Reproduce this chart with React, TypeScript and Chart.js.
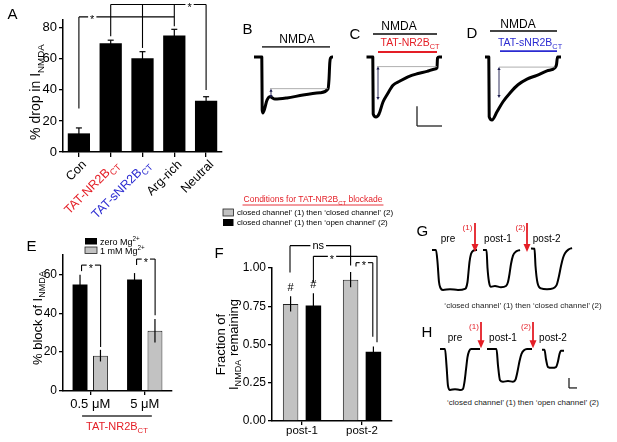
import React, { useEffect, useRef } from 'react';
import { Chart, registerables } from 'chart.js';

Chart.register(...registerables);

const FONT = '"Liberation Sans", Arial, Helvetica, sans-serif';
Chart.defaults.font.family = FONT;
Chart.defaults.color = '#000';

const RED = '#e41e26';
const BLUE = '#2b2bd1';

type Seg = { t: string; s?: 'sub' | 'sup' };

// ---------------- Panel A data ----------------
const A_CATS = ['Con', 'TAT-NR2BCT', 'TAT-sNR2BCT', 'Arg-rich', 'Neutral'];
const A_LABELS: Seg[][] = [
  [{ t: 'Con' }],
  [{ t: 'TAT-NR2B' }, { t: 'CT', s: 'sub' }],
  [{ t: 'TAT-sNR2B' }, { t: 'CT', s: 'sub' }],
  [{ t: 'Arg-rich' }],
  [{ t: 'Neutral' }],
];
const A_LABEL_COLORS = ['#000', RED, BLUE, '#000', '#000'];
const A_VALUES = [12, 70, 60.4, 75, 33];
const A_ERRORS = [3.5, 2, 4.2, 4, 2.6];
const A_YTITLE: Seg[] = [{ t: '% drop in I' }, { t: 'NMDA', s: 'sub' }];

// ---------------- Panel E data ----------------
const E_CATS = ['0.5 \u03bcM', '5 \u03bcM'];
const E_ZERO = [54.8, 57.4];
const E_ZERO_ERR = [5, 3.3];
const E_MG = [18.2, 31];
const E_MG_ERR = [3, 6];
const E_YTITLE: Seg[] = [{ t: '% block of I' }, { t: 'NMDA', s: 'sub' }];

// ---------------- Panel F data ----------------
const F_CATS = ['post-1', 'post-2'];
const F_CLOSED = [0.765, 0.924];
const F_CLOSED_ERR = [0.05, 0.05];
const F_OPEN = [0.755, 0.452];
const F_OPEN_ERR = [0.08, 0.035];
const F_LEGEND_TITLE: Seg[] = [{ t: 'Conditions for TAT-NR2B' }, { t: 'CT', s: 'sub' }, { t: ' blockade' }];
const F_LEGEND = [
  'closed channel\u2019 (1) then \u2018closed channel\u2019 (2)',
  'closed channel\u2019 (1) then \u2018open channel\u2019 (2)',
];

// ---------------- Significance brackets (category units, value units) ----------------
type Bracket = { x1: number; x2: number; y: number; drops: number[][]; label: string; lx: number };
const A_BRACKETS: Bracket[] = [
  { x1: 0, x2: 3, y: 87, drops: [[0, 28]], label: '*', lx: 0.42 },
  { x1: 1, x2: 4, y: 95, drops: [[1, 74.5], [2, 67], [3, 81], [4, 40]], label: '*', lx: 3.48 },
];
const E_BRACKETS: Bracket[] = [
  { x1: -0.16, x2: 0.19, y: 64.8, drops: [[-0.16, 61.7], [0.19, 22.6]], label: '*', lx: 0.01 },
  { x1: 0.85, x2: 1.19, y: 67.9, drops: [[0.85, 64.8], [1.19, 39]], label: '*', lx: 1.02 },
];
const F_BRACKETS: Bracket[] = [
  { x1: -0.2, x2: 0.81, y: 1.146, drops: [[-0.2, 0.97], [0.81, 1.016]], label: 'ns', lx: 0.27 },
  { x1: 0.19, x2: 1.25, y: 1.076, drops: [[0.19, 0.905], [1.25, 0.514]], label: '*', lx: 0.5 },
  { x1: 0.9, x2: 1.18, y: 1.035, drops: [[0.9, 1.009], [1.18, 0.55]], label: '*', lx: 1.03 },
];

// ---------------- Current traces (time s, normalised current) ----------------
const B_T = [-0.8, -0.02, 0.02, 0.1, 0.5, 0.8, 1.3, 2.5, 4.1, 5.8, 6.6, 6.7, 6.78, 6.85, 7.0, 7.1];
const B_I = [0, 0, -0.95, -1.0, -0.77, -0.71, -0.75, -0.73, -0.68, -0.64, -0.57, -0.4, -0.1, -0.02, 0, 0];
const C_T = [-0.65, -0.02, 0.02, 0.3, 0.6, 1.0, 1.4, 2.0, 2.7, 3.5, 4.4, 5.4, 6.2, 6.4, 6.45, 6.6, 6.9];
const C_I = [0, 0, -0.95, -1.0, -0.95, -0.75, -0.63, -0.47, -0.4, -0.33, -0.28, -0.24, -0.2, -0.18, -0.02, 0, 0];
const D_T = [-0.4, -0.02, 0.02, 0.3, 0.8, 1.4, 2.1, 2.9, 3.8, 4.8, 5.8, 6.6, 6.75, 6.85, 7.2];
const D_I = [0, 0, -0.95, -1.0, -0.87, -0.71, -0.57, -0.44, -0.35, -0.29, -0.22, -0.17, -0.12, 0, 0];

// G / H sweeps (time ms on the row, normalised current)
const G_PRE_T = [70, 110, 125, 140, 155, 180, 250, 330, 400, 410, 425, 435, 445, 460, 480, 520];
const G_PRE_I = [0, 0, -0.3, -0.8, -0.95, -1.0, -0.98, -1.0, -0.97, -0.95, -0.8, -0.55, -0.3, -0.1, -0.02, 0];
const G_P1_T = [580, 615, 625, 640, 660, 700, 760, 810, 830, 845, 860, 880, 910, 950];
const G_P1_I = [0, 0, -0.45, -0.8, -0.92, -0.9, -0.93, -0.9, -0.8, -0.6, -0.35, -0.14, -0.04, 0];
const G_P2_T = [1060, 1095, 1105, 1125, 1160, 1220, 1280, 1310, 1320, 1340, 1360, 1380, 1400, 1440, 1470];
const G_P2_I = [0.04, 0.03, -0.4, -0.82, -0.96, -0.98, -0.96, -0.9, -0.85, -0.65, -0.4, -0.2, -0.08, 0.02, 0.05];
const H_PRE_T = [150, 200, 215, 230, 250, 300, 350, 380, 395, 410, 425, 440, 460, 550];
const H_PRE_I = [0, 0, -0.4, -0.9, -1.0, -0.98, -1.0, -0.97, -0.8, -0.5, -0.2, -0.06, 0, 0];
const H_P1_T = [620, 715, 730, 750, 780, 830, 880, 905, 925, 945, 965, 990, 1020, 1070];
const H_P1_I = [0, 0, -0.4, -0.76, -0.8, -0.78, -0.8, -0.75, -0.55, -0.3, -0.12, -0.03, 0, 0];
const H_P2_T = [1170, 1195, 1210, 1230, 1270, 1310, 1330, 1345, 1360, 1390];
const H_P2_I = [-0.02, -0.02, -0.25, -0.44, -0.46, -0.44, -0.3, -0.12, -0.04, -0.04];

type Note =
  | { k: 'bar'; t1: number; t2: number; y: number; color: string }
  | { k: 'ref'; t1: number; t2: number; y: number }
  | { k: 'dbl'; t: number; y1: number; y2: number }
  | { k: 'text'; t: number; y: number; segs: Seg[]; color: string; size: number }
  | { k: 'scale'; t1: number; t2: number; y1: number; y2: number }
  | { k: 'arrow'; t: number; y1: number; y2: number };

const B_NOTES: Note[] = [
  { k: 'bar', t1: 0, t2: 6.8, y: 0.18, color: '#444' },
  { k: 'text', t: 3.5, y: 0.32, segs: [{ t: 'NMDA' }], color: '#000', size: 12 },
  { k: 'ref', t1: 0.8, t2: 6.6, y: -0.565 },
  { k: 'dbl', t: 0.9, y1: -0.565, y2: -0.73 },
];
const C_NOTES: Note[] = [
  { k: 'bar', t1: 0, t2: 6.4, y: 0.383, color: '#444' },
  { k: 'text', t: 2.6, y: 0.52, segs: [{ t: 'NMDA' }], color: '#000', size: 12 },
  { k: 'bar', t1: 0.5, t2: 6.4, y: 0.083, color: RED },
  { k: 'text', t: 3.7, y: 0.25, segs: [{ t: 'TAT-NR2B' }, { t: 'CT', s: 'sub' }], color: RED, size: 10.5 },
  { k: 'ref', t1: 0.4, t2: 6.4, y: -0.16 },
  { k: 'dbl', t: 0.5, y1: -0.16, y2: -0.717 },
  { k: 'scale', t1: 4.4, t2: 6.9, y1: -0.82, y2: -1.15 },
];
const D_NOTES: Note[] = [
  { k: 'bar', t1: 0.1, t2: 6.8, y: 0.413, color: '#444' },
  { k: 'text', t: 2.9, y: 0.524, segs: [{ t: 'NMDA' }], color: '#000', size: 12 },
  { k: 'bar', t1: 1.1, t2: 6.8, y: 0.095, color: BLUE },
  { k: 'text', t: 4.1, y: 0.24, segs: [{ t: 'TAT-sNR2B' }, { t: 'CT', s: 'sub' }], color: BLUE, size: 10.5 },
  { k: 'ref', t1: 1.0, t2: 6.6, y: -0.16 },
  { k: 'dbl', t: 1.0, y1: -0.16, y2: -0.65 },
];
const G_NOTES: Note[] = [
  { k: 'text', t: 230, y: 0.3, segs: [{ t: 'pre' }], color: '#000', size: 10 },
  { k: 'text', t: 730, y: 0.3, segs: [{ t: 'post-1' }], color: '#000', size: 10 },
  { k: 'text', t: 1217, y: 0.3, segs: [{ t: 'post-2' }], color: '#000', size: 10 },
  { k: 'text', t: 425, y: 0.575, segs: [{ t: '(1)' }], color: RED, size: 8 },
  { k: 'text', t: 955, y: 0.575, segs: [{ t: '(2)' }], color: RED, size: 8 },
  { k: 'arrow', t: 500, y1: 0.675, y2: -0.05 },
  { k: 'arrow', t: 1020, y1: 0.675, y2: -0.05 },
];
const H_NOTES: Note[] = [
  { k: 'text', t: 300, y: 0.29, segs: [{ t: 'pre' }], color: '#000', size: 10 },
  { k: 'text', t: 780, y: 0.29, segs: [{ t: 'post-1' }], color: '#000', size: 10 },
  { k: 'text', t: 1280, y: 0.29, segs: [{ t: 'post-2' }], color: '#000', size: 10 },
  { k: 'text', t: 490, y: 0.56, segs: [{ t: '(1)' }], color: RED, size: 8 },
  { k: 'text', t: 1010, y: 0.56, segs: [{ t: '(2)' }], color: RED, size: 8 },
  { k: 'arrow', t: 560, y1: 0.66, y2: 0.02 },
  { k: 'arrow', t: 1080, y1: 0.66, y2: 0.02 },
  { k: 'scale', t1: 1440, t2: 1520, y1: -0.71, y2: -0.95 },
];

// ---------------- drawing helpers ----------------
function segFont(size: number, s?: string) {
  return `${s ? size * 0.7 : size}px ${FONT}`;
}
function richWidth(ctx: CanvasRenderingContext2D, segs: Seg[], size: number) {
  let w = 0;
  for (const g of segs) {
    ctx.font = segFont(size, g.s);
    w += ctx.measureText(g.t).width;
  }
  return w;
}
function drawRich(ctx: CanvasRenderingContext2D, segs: Seg[], x: number, cy: number, size: number, color: string, align: 'left' | 'center' | 'right') {
  ctx.save();
  ctx.fillStyle = color;
  ctx.textBaseline = 'alphabetic';
  ctx.textAlign = 'left';
  const w = richWidth(ctx, segs, size);
  let cx = align === 'center' ? x - w / 2 : align === 'right' ? x - w : x;
  const base = cy + size * 0.35;
  for (const g of segs) {
    ctx.font = segFont(size, g.s);
    const dy = g.s === 'sub' ? size * 0.3 : g.s === 'sup' ? -size * 0.4 : 0;
    ctx.fillText(g.t, cx, base + dy);
    cx += ctx.measureText(g.t).width;
  }
  ctx.restore();
  return w;
}
function line(ctx: CanvasRenderingContext2D, x1: number, y1: number, x2: number, y2: number, color = '#000', w = 1.1) {
  ctx.save();
  ctx.strokeStyle = color;
  ctx.lineWidth = w;
  ctx.beginPath();
  ctx.moveTo(x1, y1);
  ctx.lineTo(x2, y2);
  ctx.stroke();
  ctx.restore();
}
function tri(ctx: CanvasRenderingContext2D, x: number, tipY: number, dir: number, half: number, len: number, color: string) {
  ctx.save();
  ctx.fillStyle = color;
  ctx.beginPath();
  ctx.moveTo(x, tipY);
  ctx.lineTo(x - half, tipY - dir * len);
  ctx.lineTo(x + half, tipY - dir * len);
  ctx.closePath();
  ctx.fill();
  ctx.restore();
}
function drawErrors(ctx: CanvasRenderingContext2D, meta: any, ys: any, vals: number[], errs: number[], cap: number) {
  meta.data.forEach((el: any, j: number) => {
    const yt = ys.getPixelForValue(vals[j] + errs[j]);
    const yb = ys.getPixelForValue(vals[j] - errs[j]);
    line(ctx, el.x, yb, el.x, yt, '#000', 1.2);
    if (cap > 0) line(ctx, el.x - cap, yt, el.x + cap, yt, '#000', 1.2);
  });
}
function drawBrackets(ctx: CanvasRenderingContext2D, xs: any, ys: any, list: Bracket[], size: number) {
  const X = (v: number) => xs.getPixelForValue(v);
  const Y = (v: number) => ys.getPixelForValue(v);
  for (const b of list) {
    line(ctx, X(b.x1), Y(b.y), X(b.x2), Y(b.y));
    for (const [dx, to] of b.drops) line(ctx, X(dx), Y(b.y), X(dx), Y(to));
    ctx.save();
    ctx.font = `${size}px ${FONT}`;
    const w = ctx.measureText(b.label).width;
    ctx.fillStyle = '#fff';
    ctx.fillRect(X(b.lx) - w / 2 - 2, Y(b.y) - 2, w + 4, 4);
    ctx.fillStyle = '#000';
    ctx.textAlign = 'center';
    ctx.textBaseline = 'alphabetic';
    const off = b.label === 'ns' ? 0.28 : 0.6;
    ctx.fillText(b.label, X(b.lx), Y(b.y) + size * off);
    ctx.restore();
  }
}

const axisGrid = (len: number) => ({
  display: true,
  drawOnChartArea: false,
  drawTicks: true,
  tickLength: len,
  color: '#000',
  lineWidth: 1.3,
  offset: false,
});
const axisBorder = { display: true, color: '#000', width: 1.5 };

// ---------------- chart configs ----------------
function makeA(): any {
  return {
    type: 'bar',
    data: {
      labels: A_CATS,
      datasets: [{ data: A_VALUES, backgroundColor: '#000', borderWidth: 0, categoryPercentage: 1, barPercentage: 0.7 }],
    },
    options: {
      responsive: false,
      animation: false,
      layout: { padding: { top: 20, right: 18, left: 0, bottom: 0 } },
      plugins: { legend: { display: false }, tooltip: { enabled: false } },
      scales: {
        x: {
          offset: true,
          grid: axisGrid(5),
          border: axisBorder,
          ticks: { display: false },
          afterFit: (s: any) => { s.height = 88; },
        },
        y: {
          min: 0,
          max: 85,
          grid: axisGrid(4),
          border: axisBorder,
          ticks: { stepSize: 20, includeBounds: false, font: { size: 13 }, color: '#000', padding: 2 },
          afterFit: (s: any) => { s.width = 63; },
        },
      },
    },
    plugins: [
      {
        id: 'aOverlay',
        afterDraw(chart: any) {
          const { ctx, chartArea, scales } = chart;
          const xs = scales.x, ys = scales.y;
          drawErrors(ctx, chart.getDatasetMeta(0), ys, A_VALUES, A_ERRORS, 3);
          A_LABELS.forEach((segs, j) => {
            ctx.save();
            ctx.translate(xs.getPixelForValue(j) + 5, chartArea.bottom + 10);
            ctx.rotate(-Math.PI / 4);
            drawRich(ctx, segs, 0, 0, 12.5, A_LABEL_COLORS[j], 'right');
            ctx.restore();
          });
          ctx.save();
          ctx.translate(chartArea.left - 28, 92);
          ctx.rotate(-Math.PI / 2);
          drawRich(ctx, A_YTITLE, 0, 0, 14, '#000', 'center');
          ctx.restore();
          drawBrackets(ctx, xs, ys, A_BRACKETS, 11);
        },
      },
    ],
  };
}

function makeE(): any {
  return {
    type: 'bar',
    data: {
      labels: E_CATS,
      datasets: [
        { label: 'zero Mg2+', data: E_ZERO, backgroundColor: '#000', borderWidth: 0, categoryPercentage: 0.75, barPercentage: 0.73 },
        { label: '1 mM Mg2+', data: E_MG, backgroundColor: '#c2c2c2', borderColor: '#222', borderWidth: 1, categoryPercentage: 0.75, barPercentage: 0.73 },
      ],
    },
    options: {
      responsive: false,
      animation: false,
      layout: { padding: { top: 25, right: 18, left: 0, bottom: 0 } },
      plugins: { legend: { display: false }, tooltip: { enabled: false } },
      scales: {
        x: {
          offset: true,
          grid: axisGrid(4),
          border: axisBorder,
          ticks: { display: false },
          afterFit: (s: any) => { s.height = 51; },
        },
        y: {
          min: 0,
          max: 70,
          grid: axisGrid(4),
          border: axisBorder,
          ticks: { stepSize: 20, includeBounds: false, font: { size: 12 }, color: '#000', padding: 2 },
          afterFit: (s: any) => { s.width = 63; },
        },
      },
    },
    plugins: [
      {
        id: 'eOverlay',
        afterDraw(chart: any) {
          const { ctx, chartArea, scales } = chart;
          const xs = scales.x, ys = scales.y;
          drawErrors(ctx, chart.getDatasetMeta(0), ys, E_ZERO, E_ZERO_ERR, 0);
          drawErrors(ctx, chart.getDatasetMeta(1), ys, E_MG, E_MG_ERR, 0);
          drawBrackets(ctx, xs, ys, E_BRACKETS, 11);
          // legend
          ctx.save();
          ctx.fillStyle = '#000';
          ctx.fillRect(85, 8, 12, 6.5);
          ctx.fillStyle = '#c2c2c2';
          ctx.fillRect(85, 17, 12, 6.5);
          ctx.strokeStyle = '#222';
          ctx.lineWidth = 0.8;
          ctx.strokeRect(85, 17, 12, 6.5);
          ctx.restore();
          drawRich(ctx, [{ t: 'zero Mg' }, { t: '2+', s: 'sup' }], 100, 11.5, 9, '#000', 'left');
          drawRich(ctx, [{ t: '1 mM Mg' }, { t: '2+', s: 'sup' }], 100, 20.5, 9, '#000', 'left');
          // x labels
          E_CATS.forEach((c, j) => {
            drawRich(ctx, [{ t: c }], xs.getPixelForValue(j), chartArea.bottom + 12.5, 13, '#000', 'center');
          });
          const gx1 = xs.getPixelForValue(-0.15), gx2 = xs.getPixelForValue(1.13);
          line(ctx, gx1, chartArea.bottom + 25, gx2, chartArea.bottom + 25, '#666', 2.2);
          drawRich(ctx, [{ t: 'TAT-NR2B' }, { t: 'CT', s: 'sub' }], (gx1 + gx2) / 2, chartArea.bottom + 35, 11, RED, 'center');
          // y title
          ctx.save();
          ctx.translate(chartArea.left - 26, 88);
          ctx.rotate(-Math.PI / 2);
          drawRich(ctx, E_YTITLE, 0, 0, 13, '#000', 'center');
          ctx.restore();
        },
      },
    ],
  };
}

function makeF(): any {
  return {
    type: 'bar',
    data: {
      labels: F_CATS,
      datasets: [
        { label: F_LEGEND[0], data: F_CLOSED, backgroundColor: '#c2c2c2', borderColor: '#222', borderWidth: 1, categoryPercentage: 0.76, barPercentage: 0.68 },
        { label: F_LEGEND[1], data: F_OPEN, backgroundColor: '#000', borderWidth: 0, categoryPercentage: 0.76, barPercentage: 0.68 },
      ],
    },
    options: {
      responsive: false,
      animation: false,
      layout: { padding: { top: 80, right: 8, left: 0, bottom: 0 } },
      plugins: { legend: { display: false }, tooltip: { enabled: false } },
      scales: {
        x: {
          offset: true,
          grid: axisGrid(4),
          border: axisBorder,
          ticks: { display: false },
          afterFit: (s: any) => { s.height = 21; },
        },
        y: {
          min: 0,
          max: 1,
          grid: axisGrid(4),
          border: axisBorder,
          ticks: { stepSize: 0.25, includeBounds: false, font: { size: 12 }, color: '#000', padding: 2, callback: (v: any) => Number(v).toFixed(2) },
          afterFit: (s: any) => { s.width = 72; },
        },
      },
    },
    plugins: [
      {
        id: 'fOverlay',
        afterDraw(chart: any) {
          const { ctx, chartArea, scales } = chart;
          const xs = scales.x, ys = scales.y;
          const m0 = chart.getDatasetMeta(0), m1 = chart.getDatasetMeta(1);
          drawErrors(ctx, m0, ys, F_CLOSED, F_CLOSED_ERR, 0);
          drawErrors(ctx, m1, ys, F_OPEN, F_OPEN_ERR, 0);
          // hash marks over post-1
          drawRich(ctx, [{ t: '#' }], m0.data[0].x, ys.getPixelForValue(F_CLOSED[0] + F_CLOSED_ERR[0]) - 9, 11, '#000', 'center');
          drawRich(ctx, [{ t: '#' }], m1.data[0].x, ys.getPixelForValue(F_OPEN[0] + F_OPEN_ERR[0]) - 9, 11, '#000', 'center');
          drawBrackets(ctx, xs, ys, F_BRACKETS, 11);
          // x labels
          F_CATS.forEach((c, j) => {
            drawRich(ctx, [{ t: c }], xs.getPixelForValue(j), chartArea.bottom + 9, 11.5, '#000', 'center');
          });
          // legend
          const tw = drawRich(ctx, F_LEGEND_TITLE, 113, 11, 8.5, RED, 'center');
          line(ctx, 113 - tw / 2 - 1, 17, 113 + tw / 2 + 1, 17, RED, 0.9);
          ctx.save();
          ctx.fillStyle = '#c2c2c2';
          ctx.fillRect(23, 21, 10.5, 7);
          ctx.strokeStyle = '#222';
          ctx.lineWidth = 0.8;
          ctx.strokeRect(23, 21, 10.5, 7);
          ctx.fillStyle = '#000';
          ctx.fillRect(23, 31, 10.5, 7);
          ctx.restore();
          drawRich(ctx, [{ t: F_LEGEND[0] }], 37, 24.5, 8, '#000', 'left');
          drawRich(ctx, [{ t: F_LEGEND[1] }], 37, 34.5, 8, '#000', 'left');
          // y title
          const cy = (chartArea.top + chartArea.bottom) / 2;
          ctx.save();
          ctx.translate(20, cy);
          ctx.rotate(-Math.PI / 2);
          drawRich(ctx, [{ t: 'Fraction of' }], 0, 0, 13, '#000', 'center');
          ctx.restore();
          ctx.save();
          ctx.translate(33, cy);
          ctx.rotate(-Math.PI / 2);
          drawRich(ctx, [{ t: 'I' }, { t: 'NMDA', s: 'sub' }, { t: ' remaining' }], 0, 0, 13, '#000', 'center');
          ctx.restore();
        },
      },
    ],
  };
}

type Sweep = { t: number[]; i: number[] };
function makeTrace(sweeps: Sweep[], xr: number[], yr: number[], notes: Note[], width: number): any {
  return {
    type: 'line',
    data: {
      datasets: sweeps.map((s) => ({
        data: s.t.map((t, k) => ({ x: t, y: s.i[k] })),
        borderColor: '#000',
        borderWidth: width,
        borderJoinStyle: 'round',
        pointRadius: 0,
        cubicInterpolationMode: 'monotone',
        fill: false,
      })),
    },
    options: {
      responsive: false,
      animation: false,
      layout: { padding: 0 },
      plugins: { legend: { display: false }, tooltip: { enabled: false } },
      scales: {
        x: { type: 'linear', display: false, min: xr[0], max: xr[1] },
        y: { type: 'linear', display: false, min: yr[0], max: yr[1] },
      },
    },
    plugins: [
      {
        id: 'notes',
        afterDraw(chart: any) {
          const { ctx, scales } = chart;
          const X = (v: number) => scales.x.getPixelForValue(v);
          const Y = (v: number) => scales.y.getPixelForValue(v);
          for (const n of notes) {
            if (n.k === 'bar') line(ctx, X(n.t1), Y(n.y), X(n.t2), Y(n.y), n.color, 1.8);
            else if (n.k === 'ref') line(ctx, X(n.t1), Y(n.y), X(n.t2), Y(n.y), '#9a9a9a', 0.8);
            else if (n.k === 'dbl') {
              const c = '#1b1b4d';
              line(ctx, X(n.t), Y(n.y1) + 2, X(n.t), Y(n.y2) - 2, c, 0.9);
              tri(ctx, X(n.t), Y(n.y1), -1, 1.6, 3, c);
              tri(ctx, X(n.t), Y(n.y2), 1, 1.6, 3, c);
            } else if (n.k === 'text') drawRich(ctx, n.segs, X(n.t), Y(n.y), n.size, n.color, 'center');
            else if (n.k === 'scale') {
              line(ctx, X(n.t1), Y(n.y1), X(n.t1), Y(n.y2), '#222', 1.3);
              line(ctx, X(n.t1), Y(n.y2), X(n.t2), Y(n.y2), '#222', 1.3);
            } else if (n.k === 'arrow') {
              line(ctx, X(n.t), Y(n.y1), X(n.t), Y(n.y2) - 6, RED, 1.8);
              tri(ctx, X(n.t), Y(n.y2), 1, 3.5, 8, RED);
            }
          }
        },
      },
    ],
  };
}

function ChartBox(props: { left: number; top: number; width: number; height: number; make: () => any }) {
  const ref = useRef<HTMLCanvasElement>(null);
  useEffect(() => {
    const chart = new Chart(ref.current as HTMLCanvasElement, props.make());
    return () => chart.destroy();
  }, []);
  return (
    <canvas
      ref={ref}
      width={props.width}
      height={props.height}
      style={{ position: 'absolute', left: props.left, top: props.top, width: props.width, height: props.height }}
    />
  );
}

const LETTERS: [string, number, number][] = [
  ['A', 7.5, 6],
  ['B', 242.5, 21],
  ['C', 349.5, 26],
  ['D', 466.5, 25],
  ['E', 26.5, 238],
  ['F', 214.5, 245],
  ['G', 416.5, 223],
  ['H', 421.5, 324],
];
const CAPTIONS: [string, number][] = [
  ['\u2018closed channel\u2019 (1) then \u2018closed channel\u2019 (2)', 301],
  ['\u2018closed channel\u2019 (1) then \u2018open channel\u2019 (2)', 398],
];

export default function App() {
  return (
    <div style={{ position: 'absolute', left: 0, top: 0, width: 617, height: 442, background: '#fff', overflow: 'hidden', fontFamily: FONT }}>
      <ChartBox left={0} top={0} width={240} height={240} make={makeA} />
      <ChartBox left={0} top={230} width={190} height={212} make={makeE} />
      <ChartBox left={200} top={188} width={200} height={254} make={makeF} />
      <ChartBox left={250} top={15} width={95} height={110} make={() => makeTrace([{ t: B_T, i: B_I }], [-1.2, 8.3], [-1.214, 0.75], B_NOTES, 3)} />
      <ChartBox left={360} top={15} width={90} height={120} make={() => makeTrace([{ t: C_T, i: C_I }], [-1.3, 7.7], [-1.3, 0.7], C_NOTES, 3)} />
      <ChartBox left={480} top={15} width={90} height={120} make={() => makeTrace([{ t: D_T, i: D_I }], [-0.9, 8.1], [-1.238, 0.667], D_NOTES, 3)} />
      <ChartBox
        left={425}
        top={215}
        width={160}
        height={90}
        make={() => makeTrace([{ t: G_PRE_T, i: G_PRE_I }, { t: G_P1_T, i: G_P1_I }, { t: G_P2_T, i: G_P2_I }], [0, 1600], [-1.375, 0.875], G_NOTES, 2)}
      />
      <ChartBox
        left={425}
        top={315}
        width={160}
        height={80}
        make={() => makeTrace([{ t: H_PRE_T, i: H_PRE_I }, { t: H_P1_T, i: H_P1_I }, { t: H_P2_T, i: H_P2_I }], [0, 1600], [-1.122, 0.829], H_NOTES, 2)}
      />
      {LETTERS.map(([l, x, y]) => (
        <div key={l} style={{ position: 'absolute', left: x, top: y, fontSize: 15, lineHeight: '15px', color: '#000' }}>
          {l}
        </div>
      ))}
      {CAPTIONS.map(([c, y]) => (
        <div key={c} style={{ position: 'absolute', left: 423, top: y, width: 200, textAlign: 'center', fontSize: 8, lineHeight: '10px', color: '#222', whiteSpace: 'nowrap' }}>
          {c}
        </div>
      ))}
    </div>
  );
}
